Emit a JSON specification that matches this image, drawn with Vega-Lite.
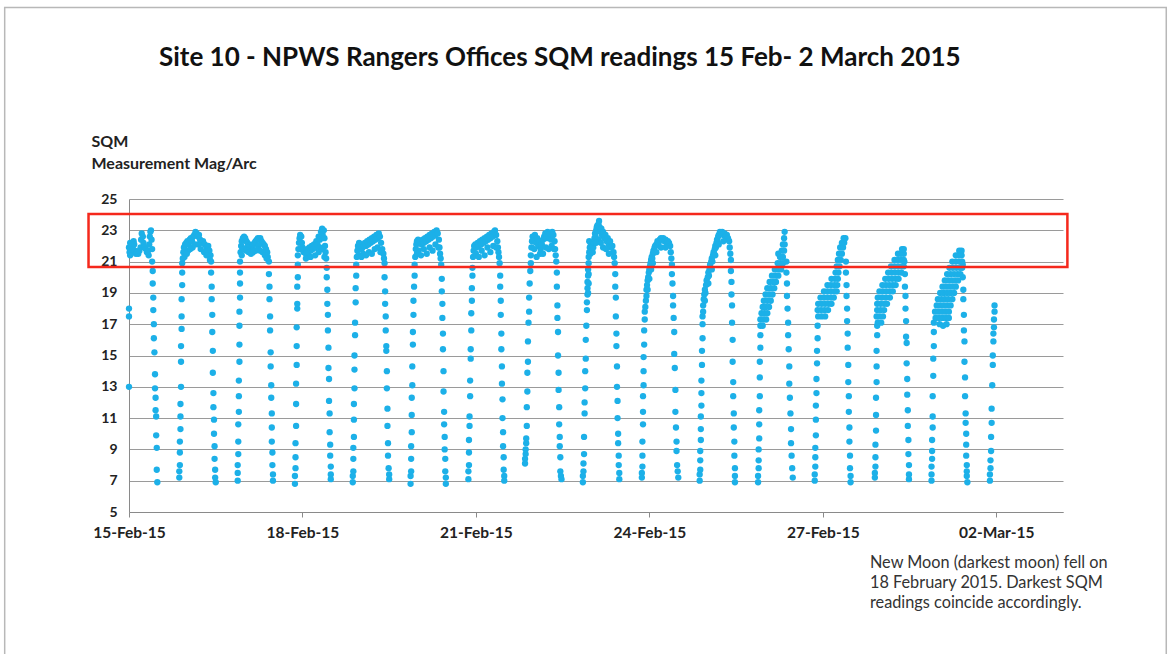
{
"$schema":"https://vega.github.io/schema/vega-lite/v6.json",
"width":934,"height":313,
"autosize":{"type":"none"},
"padding":{"left":129,"top":199,"right":109,"bottom":142},
"background":"white",
"title":{"text":"Site 10 - NPWS Rangers Offices SQM readings 15 Feb- 2 March 2015","anchor":"start","frame":"group","dx":30,"offset":-64,"font":"Lato","fontSize":26,"fontWeight":"bold","color":"#111111"},
"config":{"view":{"stroke":null},"font":"Lato"},
"encoding":{
  "x":{"field":"d","type":"quantitative","scale":{"domain":[15,31.154],"nice":false,"zero":false},
   "axis":{"values":[15,18,21,24,27,30],"labelExpr":"timeFormat(datetime(2015,1,datum.value),'%d-%b-%y')","title":null,"grid":false,"ticks":true,"tickSize":5,"tickColor":"#8a8a8a","domainColor":"#8a8a8a","labelFont":"Lato","labelFontSize":15.5,"labelFontWeight":"bold","labelColor":"#222222","labelPadding":8,"labelFlush":false,"labelOverlap":false}},
  "y":{"field":"v","type":"quantitative","scale":{"domain":[5,25],"nice":false,"zero":false},
   "axis":{"values":[5,7,9,11,13,15,17,19,21,23,25],"title":["SQM","Measurement Mag/Arc"],"titleAngle":0,"titleAlign":"left","titleBaseline":"alphabetic","titleX":-38,"titleY":-53,"titleFont":"Lato","titleFontSize":16,"titleFontWeight":"bold","titleColor":"#222222","titleLineHeight":22,"grid":true,"gridColor":"#9a9a9a","gridWidth":1,"ticks":false,"domainColor":"#8a8a8a","labelFont":"Lato","labelFontSize":14,"labelFontWeight":"bold","labelColor":"#222222","labelPadding":12}}
},
"layer":[
{"data":{"values":[{"d":12.85,"d2":32.94,"v":-4.4,"v2":37.24}]},
 "mark":{"type":"rect","fill":"white","fillOpacity":0,"stroke":"#b8b8b8","strokeWidth":1.5},
 "encoding":{"x2":{"field":"d2"},"y2":{"field":"v2"}}},
{"data":{"values":[
{"d":15.00,"v":18.0},{"d":15.00,"v":17.5},{"d":15.00,"v":13.0},
{"d":15.00,"v":21.9},{"d":15.01,"v":21.6},{"d":15.02,"v":22.2},{"d":15.03,"v":21.7},{"d":15.04,"v":22.0},{"d":15.05,"v":21.6},{"d":15.07,"v":21.8},{"d":15.08,"v":22.3},{"d":15.10,"v":21.7},{"d":15.12,"v":21.5},{"d":15.14,"v":21.6},{"d":15.16,"v":21.5},{"d":15.18,"v":21.7},{"d":15.20,"v":21.9},{"d":15.21,"v":22.4},{"d":15.22,"v":22.8},{"d":15.24,"v":22.6},{"d":15.25,"v":22.2},{"d":15.27,"v":21.9},{"d":15.29,"v":21.8},{"d":15.31,"v":21.6},{"d":15.33,"v":21.7},{"d":15.35,"v":22.1},{"d":15.36,"v":22.6},{"d":15.37,"v":22.9},{"d":15.38,"v":23.0},{"d":15.39,"v":22.4},{"d":15.40,"v":21.8},{"d":15.02,"v":21.4},{"d":15.09,"v":22.1},{"d":15.34,"v":21.4},
{"d":15.40,"v":21.0},{"d":15.41,"v":20.4},{"d":15.41,"v":19.6},{"d":15.42,"v":18.7},{"d":15.42,"v":17.9},{"d":15.43,"v":17.0},{"d":15.43,"v":16.1},{"d":15.44,"v":15.2},{"d":15.45,"v":13.8},{"d":15.45,"v":12.9},{"d":15.46,"v":12.3},{"d":15.46,"v":11.5},{"d":15.47,"v":11.1},{"d":15.47,"v":9.9},{"d":15.48,"v":9.1},{"d":15.48,"v":7.7},{"d":15.49,"v":6.9},
{"d":15.87,"v":7.2},{"d":15.87,"v":7.6},{"d":15.88,"v":8.0},{"d":15.88,"v":8.8},{"d":15.88,"v":9.5},{"d":15.89,"v":10.3},{"d":15.89,"v":11.1},{"d":15.89,"v":11.9},{"d":15.90,"v":13.0},{"d":15.90,"v":14.6},{"d":15.90,"v":15.6},{"d":15.91,"v":16.7},{"d":15.91,"v":17.5},{"d":15.91,"v":18.6},{"d":15.92,"v":19.5},{"d":15.92,"v":20.3},{"d":15.92,"v":20.9},
{"d":15.93,"v":21.2},{"d":15.94,"v":21.6},{"d":15.95,"v":21.9},{"d":15.97,"v":22.1},{"d":15.99,"v":22.2},{"d":16.01,"v":22.3},{"d":16.03,"v":22.1},{"d":16.05,"v":22.4},{"d":16.07,"v":22.5},{"d":16.09,"v":22.3},{"d":16.11,"v":22.6},{"d":16.13,"v":22.7},{"d":16.15,"v":22.9},{"d":16.17,"v":22.8},{"d":16.19,"v":22.6},{"d":16.21,"v":22.7},{"d":16.23,"v":22.4},{"d":16.25,"v":22.2},{"d":16.28,"v":22.3},{"d":16.31,"v":22.1},{"d":16.34,"v":21.9},{"d":16.37,"v":22.0},{"d":16.39,"v":21.7},{"d":16.41,"v":21.4},{"d":16.02,"v":21.7},{"d":16.10,"v":21.9},{"d":16.20,"v":22.1},{"d":16.30,"v":21.6},{"d":15.96,"v":21.3},{"d":16.00,"v":21.5},{"d":16.06,"v":21.8},{"d":16.14,"v":22.1},{"d":16.24,"v":21.8},{"d":16.34,"v":21.4},{"d":16.40,"v":21.1},
{"d":16.42,"v":21.0},{"d":16.42,"v":20.3},{"d":16.43,"v":19.4},{"d":16.43,"v":18.6},{"d":16.44,"v":17.6},{"d":16.44,"v":16.5},{"d":16.45,"v":15.3},{"d":16.45,"v":13.9},{"d":16.46,"v":12.6},{"d":16.46,"v":11.7},{"d":16.47,"v":10.9},{"d":16.47,"v":10.0},{"d":16.48,"v":9.2},{"d":16.48,"v":8.4},{"d":16.49,"v":7.7},{"d":16.49,"v":7.2},{"d":16.50,"v":6.9},
{"d":16.88,"v":7.0},{"d":16.88,"v":7.5},{"d":16.88,"v":8.0},{"d":16.89,"v":8.7},{"d":16.89,"v":9.5},{"d":16.89,"v":10.6},{"d":16.90,"v":11.4},{"d":16.90,"v":12.4},{"d":16.90,"v":13.4},{"d":16.91,"v":14.6},{"d":16.91,"v":15.7},{"d":16.91,"v":16.9},{"d":16.91,"v":17.8},{"d":16.92,"v":18.7},{"d":16.92,"v":19.6},{"d":16.92,"v":20.3},{"d":16.92,"v":21.0},
{"d":16.93,"v":21.6},{"d":16.94,"v":22.0},{"d":16.95,"v":22.3},{"d":16.97,"v":22.5},{"d":16.99,"v":22.6},{"d":17.01,"v":22.5},{"d":17.03,"v":22.3},{"d":17.05,"v":22.2},{"d":17.07,"v":22.1},{"d":17.09,"v":22.0},{"d":17.11,"v":21.9},{"d":17.13,"v":22.0},{"d":17.15,"v":22.1},{"d":17.17,"v":22.2},{"d":17.19,"v":22.3},{"d":17.21,"v":22.4},{"d":17.23,"v":22.5},{"d":17.25,"v":22.4},{"d":17.27,"v":22.5},{"d":17.29,"v":22.3},{"d":17.31,"v":22.2},{"d":17.33,"v":22.1},{"d":17.35,"v":22.0},{"d":17.37,"v":21.8},{"d":17.39,"v":21.6},{"d":17.40,"v":21.3},{"d":16.96,"v":21.8},{"d":17.04,"v":21.9},{"d":17.24,"v":22.0},{"d":16.95,"v":21.4},{"d":16.99,"v":21.8},{"d":17.03,"v":21.7},{"d":17.07,"v":21.6},{"d":17.11,"v":21.5},{"d":17.15,"v":21.6},{"d":17.19,"v":21.7},{"d":17.23,"v":21.8},{"d":17.27,"v":21.7},{"d":17.31,"v":21.6},{"d":17.35,"v":21.4},{"d":17.38,"v":21.2},
{"d":17.42,"v":21.0},{"d":17.42,"v":20.2},{"d":17.43,"v":19.4},{"d":17.43,"v":18.6},{"d":17.44,"v":17.5},{"d":17.44,"v":16.6},{"d":17.45,"v":15.2},{"d":17.45,"v":14.3},{"d":17.46,"v":13.1},{"d":17.46,"v":12.3},{"d":17.47,"v":11.3},{"d":17.47,"v":10.4},{"d":17.47,"v":9.5},{"d":17.48,"v":8.8},{"d":17.48,"v":8.0},{"d":17.49,"v":7.4},{"d":17.49,"v":7.0},
{"d":17.87,"v":6.8},{"d":17.87,"v":7.3},{"d":17.88,"v":7.8},{"d":17.88,"v":8.5},{"d":17.88,"v":9.4},{"d":17.89,"v":10.5},{"d":17.89,"v":11.9},{"d":17.89,"v":13.2},{"d":17.90,"v":14.4},{"d":17.90,"v":15.6},{"d":17.90,"v":16.8},{"d":17.91,"v":18.0},{"d":17.91,"v":18.3},{"d":17.91,"v":19.4},{"d":17.92,"v":20.0},{"d":17.92,"v":20.8},
{"d":17.92,"v":21.4},{"d":17.93,"v":21.8},{"d":17.94,"v":22.2},{"d":17.95,"v":22.5},{"d":17.96,"v":22.7},{"d":17.98,"v":22.6},{"d":17.99,"v":22.2},{"d":18.00,"v":21.9},{"d":18.02,"v":21.6},{"d":18.04,"v":21.7},{"d":18.06,"v":21.5},{"d":18.08,"v":21.8},{"d":18.10,"v":21.6},{"d":18.12,"v":21.9},{"d":18.14,"v":21.7},{"d":18.16,"v":22.0},{"d":18.18,"v":21.8},{"d":18.20,"v":22.1},{"d":18.22,"v":21.9},{"d":18.24,"v":22.3},{"d":18.26,"v":22.1},{"d":18.28,"v":22.6},{"d":18.30,"v":22.4},{"d":18.32,"v":22.9},{"d":18.34,"v":23.1},{"d":18.35,"v":22.7},{"d":18.37,"v":23.0},{"d":18.38,"v":22.5},{"d":18.39,"v":22.0},{"d":18.40,"v":21.6},{"d":18.41,"v":21.2},{"d":17.97,"v":21.8},{"d":18.30,"v":21.9},{"d":18.06,"v":21.2},{"d":18.14,"v":21.3},{"d":18.22,"v":21.4},{"d":18.28,"v":21.6},{"d":18.34,"v":21.8},{"d":18.38,"v":21.3},
{"d":18.42,"v":20.6},{"d":18.42,"v":20.0},{"d":18.43,"v":19.2},{"d":18.43,"v":18.3},{"d":18.44,"v":17.6},{"d":18.44,"v":16.6},{"d":18.45,"v":15.5},{"d":18.45,"v":14.2},{"d":18.46,"v":13.5},{"d":18.46,"v":12.1},{"d":18.47,"v":11.3},{"d":18.47,"v":10.1},{"d":18.48,"v":9.3},{"d":18.48,"v":8.6},{"d":18.49,"v":7.9},{"d":18.49,"v":7.4},{"d":18.49,"v":7.1},
{"d":18.87,"v":6.9},{"d":18.87,"v":7.3},{"d":18.88,"v":7.6},{"d":18.88,"v":8.4},{"d":18.88,"v":9.1},{"d":18.89,"v":9.8},{"d":18.89,"v":10.9},{"d":18.89,"v":11.9},{"d":18.90,"v":12.9},{"d":18.90,"v":14.1},{"d":18.90,"v":15.0},{"d":18.91,"v":16.3},{"d":18.91,"v":17.1},{"d":18.92,"v":18.4},{"d":18.92,"v":19.3},{"d":18.93,"v":20.1},{"d":18.93,"v":20.8},
{"d":18.94,"v":21.3},{"d":18.95,"v":21.7},{"d":18.96,"v":22.0},{"d":18.98,"v":22.2},{"d":19.00,"v":22.1},{"d":19.02,"v":21.8},{"d":19.04,"v":21.9},{"d":19.06,"v":22.0},{"d":19.08,"v":22.2},{"d":19.10,"v":22.0},{"d":19.12,"v":22.3},{"d":19.14,"v":22.1},{"d":19.16,"v":22.4},{"d":19.18,"v":22.2},{"d":19.20,"v":22.5},{"d":19.22,"v":22.3},{"d":19.24,"v":22.6},{"d":19.26,"v":22.4},{"d":19.28,"v":22.7},{"d":19.30,"v":22.5},{"d":19.32,"v":22.8},{"d":19.34,"v":22.6},{"d":19.36,"v":22.2},{"d":19.38,"v":21.8},{"d":19.40,"v":21.5},{"d":19.41,"v":21.2},{"d":19.05,"v":21.5},{"d":19.15,"v":21.6},{"d":19.25,"v":21.8},{"d":18.97,"v":21.4},{"d":19.02,"v":21.3},{"d":19.10,"v":21.4},{"d":19.20,"v":21.5},{"d":19.30,"v":21.9},{"d":19.35,"v":21.6},
{"d":19.42,"v":20.9},{"d":19.42,"v":20.0},{"d":19.43,"v":19.1},{"d":19.43,"v":18.3},{"d":19.44,"v":17.5},{"d":19.44,"v":16.6},{"d":19.45,"v":15.6},{"d":19.45,"v":15.3},{"d":19.46,"v":14.0},{"d":19.46,"v":12.9},{"d":19.47,"v":11.6},{"d":19.47,"v":10.5},{"d":19.48,"v":9.4},{"d":19.48,"v":8.6},{"d":19.49,"v":7.8},{"d":19.50,"v":7.4},{"d":19.50,"v":7.1},
{"d":19.87,"v":6.8},{"d":19.87,"v":7.3},{"d":19.88,"v":7.6},{"d":19.88,"v":8.4},{"d":19.88,"v":9.2},{"d":19.89,"v":10.1},{"d":19.89,"v":11.2},{"d":19.89,"v":12.3},{"d":19.90,"v":13.1},{"d":19.90,"v":14.3},{"d":19.91,"v":15.7},{"d":19.91,"v":16.5},{"d":19.92,"v":17.6},{"d":19.92,"v":18.5},{"d":19.93,"v":19.4},{"d":19.94,"v":20.1},{"d":19.94,"v":20.8},
{"d":19.95,"v":21.3},{"d":19.96,"v":21.8},{"d":19.97,"v":22.1},{"d":19.98,"v":22.3},{"d":20.00,"v":22.4},{"d":20.02,"v":22.2},{"d":20.04,"v":22.3},{"d":20.06,"v":22.1},{"d":20.08,"v":22.4},{"d":20.10,"v":22.2},{"d":20.12,"v":22.5},{"d":20.14,"v":22.3},{"d":20.16,"v":22.6},{"d":20.18,"v":22.4},{"d":20.20,"v":22.7},{"d":20.22,"v":22.5},{"d":20.24,"v":22.8},{"d":20.26,"v":22.6},{"d":20.28,"v":22.9},{"d":20.30,"v":22.7},{"d":20.32,"v":23.0},{"d":20.34,"v":22.8},{"d":20.36,"v":22.4},{"d":20.37,"v":21.9},{"d":20.38,"v":21.5},{"d":20.39,"v":21.2},{"d":20.01,"v":21.7},{"d":20.10,"v":21.8},{"d":20.20,"v":21.9},{"d":20.30,"v":22.1},{"d":19.98,"v":21.5},{"d":20.05,"v":21.4},{"d":20.15,"v":21.5},{"d":20.25,"v":21.7},{"d":20.35,"v":21.9},
{"d":20.40,"v":20.8},{"d":20.41,"v":19.9},{"d":20.41,"v":19.1},{"d":20.42,"v":18.3},{"d":20.42,"v":17.4},{"d":20.43,"v":16.4},{"d":20.43,"v":15.4},{"d":20.44,"v":14.0},{"d":20.44,"v":12.7},{"d":20.45,"v":11.4},{"d":20.45,"v":10.6},{"d":20.46,"v":9.8},{"d":20.46,"v":9.0},{"d":20.47,"v":8.4},{"d":20.47,"v":7.6},{"d":20.48,"v":7.2},{"d":20.48,"v":6.8},
{"d":20.87,"v":7.1},{"d":20.87,"v":7.6},{"d":20.88,"v":8.0},{"d":20.88,"v":8.8},{"d":20.88,"v":9.6},{"d":20.89,"v":10.5},{"d":20.89,"v":11.1},{"d":20.90,"v":12.4},{"d":20.90,"v":13.4},{"d":20.91,"v":14.8},{"d":20.91,"v":15.4},{"d":20.92,"v":16.6},{"d":20.92,"v":17.7},{"d":20.93,"v":18.5},{"d":20.93,"v":19.3},{"d":20.94,"v":20.1},{"d":20.94,"v":20.6},
{"d":20.95,"v":21.3},{"d":20.96,"v":21.7},{"d":20.97,"v":22.0},{"d":20.99,"v":22.1},{"d":21.01,"v":21.9},{"d":21.03,"v":22.2},{"d":21.05,"v":22.0},{"d":21.07,"v":22.3},{"d":21.09,"v":22.1},{"d":21.11,"v":22.4},{"d":21.13,"v":22.2},{"d":21.15,"v":22.5},{"d":21.17,"v":22.3},{"d":21.19,"v":22.6},{"d":21.21,"v":22.4},{"d":21.23,"v":22.7},{"d":21.25,"v":22.5},{"d":21.27,"v":22.8},{"d":21.29,"v":22.6},{"d":21.31,"v":22.9},{"d":21.33,"v":23.0},{"d":21.35,"v":22.7},{"d":21.37,"v":22.3},{"d":21.38,"v":21.9},{"d":21.39,"v":21.6},{"d":21.40,"v":21.3},{"d":21.00,"v":21.5},{"d":21.10,"v":21.7},{"d":21.20,"v":21.9},{"d":21.30,"v":22.0},{"d":21.05,"v":21.3},{"d":21.15,"v":21.4},{"d":21.25,"v":21.6},{"d":21.35,"v":21.9},
{"d":21.41,"v":20.9},{"d":21.42,"v":20.1},{"d":21.42,"v":19.4},{"d":21.43,"v":18.5},{"d":21.43,"v":17.6},{"d":21.44,"v":16.4},{"d":21.44,"v":15.4},{"d":21.45,"v":14.3},{"d":21.45,"v":13.2},{"d":21.46,"v":12.2},{"d":21.46,"v":11.0},{"d":21.47,"v":10.1},{"d":21.47,"v":9.2},{"d":21.48,"v":8.5},{"d":21.48,"v":7.7},{"d":21.49,"v":7.3},{"d":21.49,"v":7.0},
{"d":21.85,"v":8.1},{"d":21.85,"v":8.4},{"d":21.86,"v":8.7},{"d":21.86,"v":9.0},{"d":21.87,"v":9.4},{"d":21.87,"v":9.7},{"d":21.88,"v":10.5},{"d":21.88,"v":11.7},{"d":21.89,"v":12.7},{"d":21.89,"v":13.9},{"d":21.90,"v":14.6},{"d":21.90,"v":15.9},{"d":21.91,"v":17.1},{"d":21.92,"v":17.8},{"d":21.92,"v":18.7},{"d":21.93,"v":19.6},{"d":21.94,"v":20.4},{"d":21.95,"v":20.9},
{"d":21.95,"v":21.4},{"d":21.96,"v":21.9},{"d":21.97,"v":22.3},{"d":21.98,"v":22.6},{"d":22.00,"v":22.4},{"d":22.02,"v":22.7},{"d":22.04,"v":22.2},{"d":22.06,"v":22.5},{"d":22.08,"v":22.0},{"d":22.10,"v":22.3},{"d":22.12,"v":21.8},{"d":22.14,"v":22.1},{"d":22.16,"v":22.4},{"d":22.18,"v":22.6},{"d":22.20,"v":22.8},{"d":22.22,"v":22.5},{"d":22.24,"v":22.9},{"d":22.26,"v":22.6},{"d":22.28,"v":22.8},{"d":22.30,"v":22.4},{"d":22.32,"v":22.9},{"d":22.34,"v":22.7},{"d":22.36,"v":22.3},{"d":22.37,"v":21.8},{"d":22.38,"v":21.4},{"d":22.01,"v":21.8},{"d":22.11,"v":21.5},{"d":22.21,"v":21.9},{"d":22.31,"v":22.0},{"d":22.05,"v":21.3},{"d":22.16,"v":21.5},{"d":22.26,"v":21.8},{"d":22.35,"v":21.8},
{"d":22.39,"v":21.0},{"d":22.40,"v":20.3},{"d":22.40,"v":19.4},{"d":22.41,"v":18.2},{"d":22.41,"v":17.4},{"d":22.42,"v":16.5},{"d":22.42,"v":15.0},{"d":22.43,"v":13.9},{"d":22.43,"v":12.8},{"d":22.44,"v":11.7},{"d":22.44,"v":10.6},{"d":22.45,"v":9.8},{"d":22.45,"v":9.2},{"d":22.46,"v":8.5},{"d":22.46,"v":7.6},{"d":22.47,"v":7.3},{"d":22.48,"v":7.1},
{"d":22.85,"v":6.9},{"d":22.85,"v":7.3},{"d":22.86,"v":7.6},{"d":22.86,"v":8.1},{"d":22.87,"v":8.7},{"d":22.87,"v":9.8},{"d":22.88,"v":11.3},{"d":22.88,"v":12.0},{"d":22.89,"v":12.9},{"d":22.89,"v":14.0},{"d":22.90,"v":14.8},{"d":22.90,"v":16.0},{"d":22.91,"v":16.9},{"d":22.92,"v":17.9},{"d":22.92,"v":18.4},{"d":22.93,"v":18.9},{"d":22.93,"v":19.3},{"d":22.93,"v":19.7},{"d":22.94,"v":20.1},{"d":22.94,"v":20.5},{"d":22.95,"v":20.9},{"d":22.94,"v":19.0},{"d":22.95,"v":19.6},{"d":22.95,"v":20.2},
{"d":22.95,"v":21.3},{"d":22.96,"v":21.6},{"d":22.97,"v":21.9},{"d":22.98,"v":21.5},{"d":22.99,"v":22.1},{"d":22.96,"v":22.3},{"d":23.00,"v":21.7},{"d":23.01,"v":22.0},{"d":23.02,"v":21.6},{"d":23.03,"v":21.9},{"d":23.04,"v":22.2},{"d":23.05,"v":22.5},{"d":23.06,"v":22.8},{"d":23.07,"v":22.6},{"d":23.08,"v":23.0},{"d":23.09,"v":23.2},{"d":23.10,"v":23.3},{"d":23.11,"v":23.0},{"d":23.12,"v":23.4},{"d":23.13,"v":23.6},{"d":23.14,"v":23.2},{"d":23.15,"v":22.9},{"d":23.17,"v":23.1},{"d":23.18,"v":22.7},{"d":23.20,"v":22.9},{"d":23.22,"v":22.5},{"d":23.24,"v":22.7},{"d":23.26,"v":22.3},{"d":23.28,"v":22.5},{"d":23.30,"v":22.1},{"d":23.32,"v":22.3},{"d":23.34,"v":21.9},{"d":23.36,"v":22.0},{"d":23.38,"v":21.6},{"d":23.39,"v":21.3},{"d":23.12,"v":22.4},{"d":23.16,"v":22.2},{"d":23.20,"v":21.9},{"d":23.25,"v":21.8},{"d":23.08,"v":22.2},{"d":23.30,"v":21.5},
{"d":23.40,"v":20.9},{"d":23.41,"v":20.2},{"d":23.41,"v":19.4},{"d":23.42,"v":18.7},{"d":23.42,"v":17.5},{"d":23.43,"v":16.4},{"d":23.43,"v":15.6},{"d":23.44,"v":14.3},{"d":23.44,"v":13.0},{"d":23.45,"v":12.1},{"d":23.45,"v":11.0},{"d":23.46,"v":10.0},{"d":23.46,"v":9.4},{"d":23.47,"v":8.6},{"d":23.47,"v":8.0},{"d":23.48,"v":7.5},{"d":23.48,"v":7.1},
{"d":23.87,"v":7.2},{"d":23.87,"v":7.5},{"d":23.88,"v":7.9},{"d":23.88,"v":8.6},{"d":23.88,"v":9.5},{"d":23.89,"v":10.6},{"d":23.89,"v":11.4},{"d":23.89,"v":12.4},{"d":23.90,"v":13.1},{"d":23.90,"v":14.0},{"d":23.90,"v":14.9},{"d":23.91,"v":15.7},{"d":23.91,"v":16.6},{"d":23.92,"v":17.3},{"d":23.92,"v":17.8},
{"d":23.93,"v":18.1},{"d":23.94,"v":18.5},{"d":23.95,"v":18.8},{"d":23.95,"v":19.2},{"d":23.96,"v":19.5},{"d":23.97,"v":19.8},{"d":23.98,"v":20.0},{"d":23.99,"v":20.3},{"d":24.00,"v":20.5},{"d":24.01,"v":20.7},{"d":24.02,"v":20.9},{"d":24.03,"v":21.1},{"d":24.04,"v":21.3},{"d":24.05,"v":21.2},{"d":24.06,"v":21.5},{"d":24.07,"v":21.7},{"d":24.08,"v":21.6},{"d":24.09,"v":21.9},{"d":24.10,"v":22.0},{"d":24.12,"v":22.1},{"d":24.14,"v":22.3},{"d":24.16,"v":22.2},{"d":24.18,"v":22.4},{"d":24.20,"v":22.5},{"d":24.22,"v":22.4},{"d":24.24,"v":22.5},{"d":24.26,"v":22.3},{"d":24.28,"v":22.4},{"d":24.30,"v":22.2},{"d":24.32,"v":22.3},{"d":24.34,"v":22.2},{"d":24.36,"v":22.0},{"d":24.37,"v":21.6},{"d":24.38,"v":21.2},{"d":23.97,"v":19.2},{"d":24.00,"v":19.9},{"d":24.03,"v":20.5},{"d":24.06,"v":20.9},{"d":24.12,"v":21.6},{"d":24.20,"v":21.9},{"d":24.28,"v":21.9},
{"d":24.39,"v":20.8},{"d":24.39,"v":20.2},{"d":24.40,"v":19.6},{"d":24.41,"v":18.8},{"d":24.41,"v":18.2},{"d":24.42,"v":17.4},{"d":24.43,"v":16.5},{"d":24.43,"v":15.1},{"d":24.44,"v":14.2},{"d":24.45,"v":12.8},{"d":24.45,"v":11.4},{"d":24.46,"v":10.4},{"d":24.47,"v":9.5},{"d":24.47,"v":8.9},{"d":24.48,"v":8.0},{"d":24.49,"v":7.6},{"d":24.50,"v":7.2},
{"d":24.87,"v":7.0},{"d":24.87,"v":7.4},{"d":24.88,"v":7.7},{"d":24.88,"v":8.3},{"d":24.88,"v":8.9},{"d":24.89,"v":9.6},{"d":24.89,"v":10.3},{"d":24.89,"v":11.1},{"d":24.90,"v":11.8},{"d":24.90,"v":12.6},{"d":24.90,"v":13.4},{"d":24.91,"v":14.4},{"d":24.91,"v":15.3},{"d":24.92,"v":16.1},{"d":24.92,"v":17.0},{"d":24.92,"v":17.5},
{"d":24.93,"v":18.2},{"d":24.93,"v":17.8},{"d":24.94,"v":18.6},{"d":24.95,"v":18.9},{"d":24.96,"v":19.2},{"d":24.97,"v":19.0},{"d":24.98,"v":19.5},{"d":24.99,"v":19.8},{"d":25.00,"v":19.6},{"d":25.01,"v":20.0},{"d":25.02,"v":20.3},{"d":25.03,"v":20.1},{"d":25.04,"v":20.5},{"d":25.05,"v":20.8},{"d":25.06,"v":20.6},{"d":25.07,"v":21.0},{"d":25.08,"v":21.2},{"d":25.09,"v":21.0},{"d":25.10,"v":21.4},{"d":25.11,"v":21.6},{"d":25.12,"v":21.5},{"d":25.13,"v":21.8},{"d":25.14,"v":22.0},{"d":25.15,"v":21.9},{"d":25.16,"v":22.2},{"d":25.17,"v":22.4},{"d":25.18,"v":22.3},{"d":25.19,"v":22.6},{"d":25.20,"v":22.7},{"d":25.22,"v":22.9},{"d":25.24,"v":22.8},{"d":25.26,"v":22.9},{"d":25.28,"v":22.7},{"d":25.30,"v":22.8},{"d":25.32,"v":22.6},{"d":25.34,"v":22.7},{"d":25.36,"v":22.5},{"d":25.38,"v":22.3},{"d":25.39,"v":21.9},{"d":25.40,"v":21.5},{"d":24.96,"v":18.5},{"d":25.02,"v":19.6},{"d":25.08,"v":20.5},{"d":25.14,"v":21.4},{"d":25.20,"v":22.1},{"d":25.28,"v":22.3},
{"d":25.41,"v":21.1},{"d":25.41,"v":20.4},{"d":25.42,"v":19.7},{"d":25.42,"v":18.9},{"d":25.43,"v":18.2},{"d":25.43,"v":17.1},{"d":25.44,"v":16.0},{"d":25.44,"v":14.6},{"d":25.45,"v":13.3},{"d":25.45,"v":12.4},{"d":25.46,"v":11.3},{"d":25.46,"v":10.4},{"d":25.47,"v":9.5},{"d":25.47,"v":8.6},{"d":25.48,"v":7.8},{"d":25.48,"v":7.3},{"d":25.48,"v":6.9},
{"d":25.88,"v":6.9},{"d":25.88,"v":7.3},{"d":25.89,"v":7.8},{"d":25.89,"v":8.3},{"d":25.89,"v":9.0},{"d":25.90,"v":9.7},{"d":25.90,"v":10.6},{"d":25.90,"v":11.5},{"d":25.91,"v":12.4},{"d":25.91,"v":13.6},{"d":25.91,"v":14.6},{"d":25.92,"v":15.5},{"d":25.92,"v":16.3},
{"d":25.92,"v":16.9},{"d":25.96,"v":16.9},{"d":25.92,"v":17.3},{"d":25.97,"v":17.3},{"d":26.02,"v":17.3},{"d":25.94,"v":17.7},{"d":25.99,"v":17.7},{"d":26.04,"v":17.7},{"d":25.96,"v":18.1},{"d":26.01,"v":18.1},{"d":26.07,"v":18.1},{"d":25.98,"v":18.5},{"d":26.04,"v":18.5},{"d":26.10,"v":18.5},{"d":26.01,"v":18.9},{"d":26.07,"v":18.9},{"d":26.13,"v":18.9},{"d":26.04,"v":19.3},{"d":26.10,"v":19.3},{"d":26.16,"v":19.3},{"d":26.08,"v":19.7},{"d":26.14,"v":19.7},{"d":26.19,"v":19.7},{"d":26.12,"v":20.1},{"d":26.18,"v":20.1},{"d":26.23,"v":20.1},{"d":26.17,"v":20.5},{"d":26.23,"v":20.5},{"d":26.28,"v":20.5},{"d":26.22,"v":20.9},{"d":26.27,"v":20.9},{"d":26.31,"v":20.9},{"d":26.26,"v":21.3},{"d":26.31,"v":21.3},{"d":26.29,"v":21.7},{"d":26.33,"v":21.7},{"d":26.31,"v":22.1},{"d":26.34,"v":22.1},{"d":26.33,"v":22.5},{"d":26.34,"v":22.9},{"d":26.23,"v":21.5},
{"d":26.37,"v":21.0},{"d":26.37,"v":20.3},{"d":26.38,"v":19.6},{"d":26.38,"v":18.8},{"d":26.39,"v":18.0},{"d":26.40,"v":17.1},{"d":26.40,"v":16.3},{"d":26.41,"v":15.4},{"d":26.42,"v":14.3},{"d":26.42,"v":13.2},{"d":26.43,"v":12.3},{"d":26.44,"v":11.3},{"d":26.45,"v":10.3},{"d":26.45,"v":9.4},{"d":26.46,"v":8.6},{"d":26.47,"v":7.8},{"d":26.48,"v":7.2},
{"d":26.86,"v":7.0},{"d":26.86,"v":7.4},{"d":26.87,"v":7.9},{"d":26.87,"v":8.5},{"d":26.87,"v":9.1},{"d":26.88,"v":9.9},{"d":26.88,"v":10.9},{"d":26.88,"v":11.8},{"d":26.89,"v":12.6},{"d":26.89,"v":13.5},{"d":26.90,"v":14.5},{"d":26.90,"v":15.3},{"d":26.91,"v":16.1},{"d":26.91,"v":16.9},
{"d":26.92,"v":17.5},{"d":26.98,"v":17.5},{"d":27.04,"v":17.5},{"d":26.91,"v":17.9},{"d":26.97,"v":17.9},{"d":27.03,"v":17.9},{"d":27.09,"v":17.9},{"d":26.92,"v":18.3},{"d":26.98,"v":18.3},{"d":27.04,"v":18.3},{"d":27.10,"v":18.3},{"d":27.15,"v":18.3},{"d":26.96,"v":18.7},{"d":27.02,"v":18.7},{"d":27.08,"v":18.7},{"d":27.14,"v":18.7},{"d":27.19,"v":18.7},{"d":27.02,"v":19.1},{"d":27.08,"v":19.1},{"d":27.14,"v":19.1},{"d":27.20,"v":19.1},{"d":27.24,"v":19.1},{"d":27.08,"v":19.5},{"d":27.14,"v":19.5},{"d":27.20,"v":19.5},{"d":27.25,"v":19.5},{"d":27.15,"v":19.9},{"d":27.21,"v":19.9},{"d":27.26,"v":19.9},{"d":27.22,"v":20.3},{"d":27.27,"v":20.3},{"d":27.24,"v":20.7},{"d":27.29,"v":20.7},{"d":27.26,"v":21.1},{"d":27.31,"v":21.1},{"d":27.28,"v":21.5},{"d":27.33,"v":21.5},{"d":27.30,"v":21.9},{"d":27.35,"v":21.9},{"d":27.33,"v":22.2},{"d":27.37,"v":22.2},{"d":27.36,"v":22.5},{"d":27.39,"v":22.5},
{"d":27.40,"v":21.0},{"d":27.40,"v":20.3},{"d":27.41,"v":19.5},{"d":27.41,"v":18.8},{"d":27.42,"v":18.0},{"d":27.42,"v":17.2},{"d":27.43,"v":16.4},{"d":27.43,"v":15.5},{"d":27.44,"v":14.4},{"d":27.44,"v":13.3},{"d":27.45,"v":12.4},{"d":27.45,"v":11.4},{"d":27.46,"v":10.4},{"d":27.46,"v":9.5},{"d":27.47,"v":8.6},{"d":27.47,"v":7.8},{"d":27.48,"v":7.3},{"d":27.48,"v":6.9},
{"d":27.90,"v":7.2},{"d":27.90,"v":7.5},{"d":27.91,"v":7.9},{"d":27.91,"v":8.5},{"d":27.91,"v":9.3},{"d":27.92,"v":10.2},{"d":27.92,"v":11.2},{"d":27.92,"v":12.3},{"d":27.93,"v":13.3},{"d":27.93,"v":14.3},{"d":27.93,"v":15.3},{"d":27.94,"v":16.3},{"d":27.94,"v":16.9},
{"d":27.95,"v":17.1},{"d":28.01,"v":17.1},{"d":27.93,"v":17.5},{"d":27.98,"v":17.5},{"d":28.04,"v":17.5},{"d":27.94,"v":17.9},{"d":28.00,"v":17.9},{"d":28.06,"v":17.9},{"d":27.94,"v":18.3},{"d":28.00,"v":18.3},{"d":28.06,"v":18.3},{"d":28.11,"v":18.3},{"d":27.95,"v":18.7},{"d":28.02,"v":18.7},{"d":28.09,"v":18.7},{"d":28.16,"v":18.7},{"d":27.98,"v":19.1},{"d":28.04,"v":19.1},{"d":28.10,"v":19.1},{"d":28.16,"v":19.1},{"d":28.21,"v":19.1},{"d":28.03,"v":19.5},{"d":28.09,"v":19.5},{"d":28.15,"v":19.5},{"d":28.21,"v":19.5},{"d":28.26,"v":19.5},{"d":28.08,"v":19.9},{"d":28.14,"v":19.9},{"d":28.20,"v":19.9},{"d":28.26,"v":19.9},{"d":28.31,"v":19.9},{"d":28.13,"v":20.3},{"d":28.19,"v":20.3},{"d":28.25,"v":20.3},{"d":28.31,"v":20.3},{"d":28.36,"v":20.3},{"d":28.18,"v":20.7},{"d":28.24,"v":20.7},{"d":28.30,"v":20.7},{"d":28.36,"v":20.7},{"d":28.40,"v":20.7},{"d":28.24,"v":21.1},{"d":28.30,"v":21.1},{"d":28.36,"v":21.1},{"d":28.40,"v":21.1},{"d":28.30,"v":21.5},{"d":28.35,"v":21.5},{"d":28.40,"v":21.5},{"d":28.37,"v":21.8},{"d":28.40,"v":21.8},
{"d":28.41,"v":21.0},{"d":28.42,"v":20.2},{"d":28.42,"v":19.4},{"d":28.43,"v":18.8},{"d":28.43,"v":18.0},{"d":28.44,"v":17.2},{"d":28.44,"v":16.2},{"d":28.45,"v":15.8},{"d":28.45,"v":14.5},{"d":28.46,"v":13.5},{"d":28.46,"v":12.5},{"d":28.47,"v":11.5},{"d":28.47,"v":10.5},{"d":28.48,"v":9.6},{"d":28.48,"v":8.7},{"d":28.49,"v":8.0},{"d":28.49,"v":7.4},{"d":28.49,"v":7.1},
{"d":28.88,"v":7.0},{"d":28.88,"v":7.4},{"d":28.88,"v":7.9},{"d":28.89,"v":8.4},{"d":28.89,"v":8.9},{"d":28.89,"v":9.6},{"d":28.90,"v":10.4},{"d":28.90,"v":11.1},{"d":28.90,"v":12.4},{"d":28.91,"v":13.7},{"d":28.91,"v":14.8},{"d":28.92,"v":15.6},{"d":28.92,"v":16.5},{"d":28.92,"v":17.1},
{"d":29.02,"v":17.0},{"d":29.08,"v":16.9},{"d":29.14,"v":17.0},{"d":28.95,"v":17.4},{"d":29.01,"v":17.4},{"d":29.07,"v":17.4},{"d":29.13,"v":17.4},{"d":29.18,"v":17.4},{"d":28.94,"v":17.8},{"d":29.00,"v":17.8},{"d":29.06,"v":17.8},{"d":29.12,"v":17.8},{"d":29.18,"v":17.8},{"d":28.97,"v":18.2},{"d":29.03,"v":18.2},{"d":29.09,"v":18.2},{"d":29.15,"v":18.2},{"d":29.21,"v":18.2},{"d":28.99,"v":18.6},{"d":29.05,"v":18.6},{"d":29.11,"v":18.6},{"d":29.17,"v":18.6},{"d":29.24,"v":18.6},{"d":29.03,"v":19.0},{"d":29.09,"v":19.0},{"d":29.15,"v":19.0},{"d":29.21,"v":19.0},{"d":29.27,"v":19.0},{"d":29.07,"v":19.4},{"d":29.13,"v":19.4},{"d":29.19,"v":19.4},{"d":29.25,"v":19.4},{"d":29.30,"v":19.4},{"d":29.11,"v":19.8},{"d":29.17,"v":19.8},{"d":29.23,"v":19.8},{"d":29.29,"v":19.8},{"d":29.34,"v":19.8},{"d":29.15,"v":20.2},{"d":29.21,"v":20.2},{"d":29.27,"v":20.2},{"d":29.33,"v":20.2},{"d":29.38,"v":20.2},{"d":29.19,"v":20.6},{"d":29.25,"v":20.6},{"d":29.31,"v":20.6},{"d":29.37,"v":20.6},{"d":29.41,"v":20.6},{"d":29.24,"v":21.0},{"d":29.30,"v":21.0},{"d":29.36,"v":21.0},{"d":29.41,"v":21.0},{"d":29.30,"v":21.4},{"d":29.35,"v":21.4},{"d":29.40,"v":21.4},{"d":29.36,"v":21.7},{"d":29.40,"v":21.7},
{"d":29.42,"v":20.8},{"d":29.42,"v":20.0},{"d":29.43,"v":19.2},{"d":29.43,"v":18.6},{"d":29.44,"v":17.6},{"d":29.44,"v":16.6},{"d":29.45,"v":15.9},{"d":29.45,"v":14.6},{"d":29.46,"v":13.6},{"d":29.46,"v":12.4},{"d":29.47,"v":11.3},{"d":29.47,"v":10.7},{"d":29.48,"v":10.0},{"d":29.48,"v":9.3},{"d":29.48,"v":8.6},{"d":29.49,"v":8.0},{"d":29.49,"v":7.6},{"d":29.49,"v":7.3},{"d":29.50,"v":6.9},
{"d":29.89,"v":7.0},{"d":29.89,"v":7.4},{"d":29.90,"v":7.8},{"d":29.90,"v":8.3},{"d":29.91,"v":8.9},{"d":29.91,"v":9.8},{"d":29.92,"v":10.7},{"d":29.92,"v":11.6},{"d":29.93,"v":13.1},{"d":29.94,"v":14.4},{"d":29.94,"v":15.0},{"d":29.95,"v":15.9},{"d":29.95,"v":16.4},{"d":29.96,"v":16.8},{"d":29.96,"v":17.3},{"d":29.97,"v":17.8},{"d":29.97,"v":18.2}
]},
 "mark":{"type":"circle","size":40,"color":"#1cb0e8","opacity":1}},
{"data":{"values":[{"d":14.30,"d2":31.23,"v":20.65,"v2":24.04}]},
 "mark":{"type":"rect","fill":"white","fillOpacity":0,"stroke":"#f5281c","strokeWidth":2.5},
 "encoding":{"x2":{"field":"d2"},"y2":{"field":"v2"}}},
{"data":{"values":[{"d":27.815,"v":1.45,"note":["New Moon (darkest moon) fell on","18 February 2015.  Darkest SQM","readings coincide accordingly."]}]},
 "mark":{"type":"text","align":"left","baseline":"alphabetic","font":"Lato","fontSize":16.3,"lineHeight":20,"color":"#333333"},
 "encoding":{"text":{"field":"note"}}}
]
}
